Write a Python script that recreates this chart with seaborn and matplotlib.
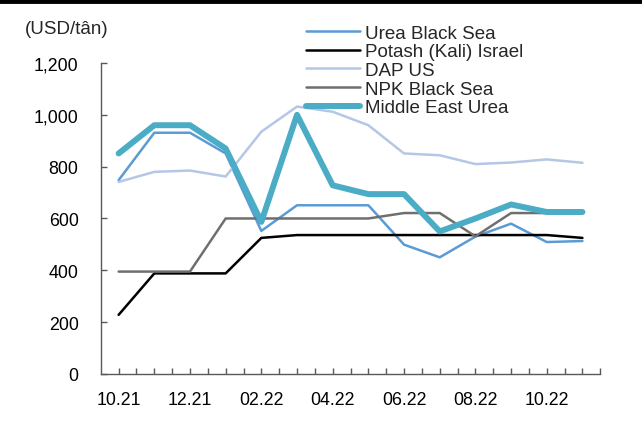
import numpy as np
import pandas as pd
import matplotlib.pyplot as plt
import seaborn as sns

# datos del gráfico (USD/tấn)
meses = ['10.21', '11.21', '12.21', '01.22', '02.22', '03.22', '04.22',
         '05.22', '06.22', '07.22', '08.22', '09.22', '10.22', '11.22']
urea_black_sea = [748, 931, 931, 851, 552, 651, 651, 651, 499, 450, 530, 580, 509, 513]
potash_israel = [228, 388, 388, 388, 525, 536, 536, 536, 536, 536, 536, 536, 536, 525]
dap_us = [741, 780, 785, 762, 935, 1032, 1012, 960, 851, 844, 810, 816, 828, 815]
npk_black_sea = [395, 395, 395, 600, 600, 600, 600, 600, 621, 621, 531, 621, 621, 621]
middle_east_urea = [851, 960, 960, 870, 587, 1000, 728, 694, 694, 550, 600, 654, 625, 625]

series = {
    'Urea Black Sea': urea_black_sea,
    'Potash (Kali) Israel': potash_israel,
    'DAP US': dap_us,
    'NPK Black Sea': npk_black_sea,
    'Middle East Urea': middle_east_urea,
}
colores = {
    'Urea Black Sea': '#5B9BD5',
    'Potash (Kali) Israel': '#000000',
    'DAP US': '#B4C7E7',
    'NPK Black Sea': '#6F6F6F',
    'Middle East Urea': '#4BACC6',
}
grosores = {
    'Urea Black Sea': 1.8,
    'Potash (Kali) Israel': 1.8,
    'DAP US': 1.8,
    'NPK Black Sea': 1.8,
    'Middle East Urea': 4.3,
}

df = pd.DataFrame([
    {'pos': i, 'mes': m, 'serie': nombre, 'valor': v}
    for nombre, valores in series.items()
    for i, (m, v) in enumerate(zip(meses, valores))
])

sns.set_style('ticks')
plt.rcParams['font.family'] = ['Liberation Sans', 'DejaVu Sans']
plt.rcParams['font.size'] = 12.8

fig = plt.figure(figsize=(6.42, 4.27), dpi=100)
ax = fig.add_axes([0.157, 0.122, 0.778, 0.728])

for nombre in series:
    d = df[df['serie'] == nombre]
    sns.lineplot(data=d, x='pos', y='valor', ax=ax, color=colores[nombre],
                 linewidth=grosores[nombre], label=nombre, solid_capstyle='round')

ax.set_xlim(-0.5, len(meses) - 0.5)
ax.set_ylim(0, 1200)
ax.set_xticks(np.arange(0, len(meses), 2))
ax.set_xticklabels(meses[::2])
ax.set_xticks(np.arange(0, len(meses), 0.5), minor=True)
ax.set_yticks(range(0, 1201, 200))
ax.set_yticklabels([f'{v:,}' for v in range(0, 1201, 200)])
ax.set_xlabel('')
ax.set_ylabel('')

for lado in ['top', 'right']:
    ax.spines[lado].set_visible(False)
for lado in ['left', 'bottom']:
    ax.spines[lado].set_color('#595959')
    ax.spines[lado].set_linewidth(1.0)

ax.tick_params(axis='both', which='both', direction='in', color='#595959',
               labelsize=12.8, labelcolor='black', width=1.0)
ax.tick_params(axis='y', length=4, pad=16)
ax.tick_params(axis='x', which='major', length=4, pad=12.5)
ax.tick_params(axis='x', which='minor', length=4)

leg = ax.legend(loc='upper left', bbox_to_anchor=(0.4766, 0.940),
                bbox_transform=fig.transFigure, frameon=False,
                fontsize=13.5, handlelength=2.9, handletextpad=0.24,
                labelspacing=0.08, borderaxespad=0, borderpad=0)

fig.text(0.039, 0.93, '(USD/tân)', fontsize=13.5, va='center', ha='left')

# barra negra superior
fig.add_artist(plt.Line2D([0, 1], [0.995, 0.995], color='black', linewidth=3.5,
                          transform=fig.transFigure))

fig.savefig('out.png', dpi=100)
